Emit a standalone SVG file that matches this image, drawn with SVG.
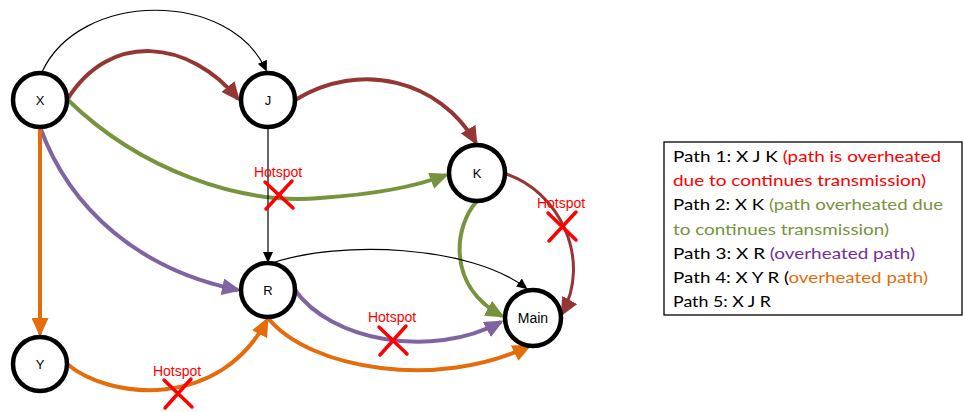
<svg xmlns="http://www.w3.org/2000/svg" width="964" height="412" viewBox="0 0 964 412">
<style>
.node circle{fill:#fff;stroke:#000;stroke-width:4.5}
.node text{font-family:"Liberation Sans",Arial,sans-serif;font-size:13px;fill:#000;text-anchor:middle}
.e{fill:none}
.thin{stroke:#000;stroke-width:1.2}
.br{stroke:#943634;stroke-width:4}
.gr{stroke:#77933C;stroke-width:4}
.pu{stroke:#8064A2;stroke-width:4}
.or{stroke:#E46C0A;stroke-width:4}
.hs text{font-family:"Liberation Sans",Arial,sans-serif;font-size:14px;fill:#FF0000;text-anchor:middle}
.hs path{stroke:#FF0000;stroke-width:3.5;fill:none;stroke-linecap:round}
.legend text{font-family:Lato,"Liberation Sans",sans-serif;font-size:16px;fill:#000}
.legend .red{fill:#FF0000}
.legend .grn{fill:#77933C}
.legend .pur{fill:#7030A0}
.legend .org{fill:#E46C0A}
</style>
<defs>
<marker id="mb" markerUnits="userSpaceOnUse" markerWidth="11" markerHeight="10" refX="9" refY="5" orient="auto"><path d="M0,0 L11,5 L0,10 z" fill="#000"/></marker>
<marker id="mbr" markerUnits="userSpaceOnUse" markerWidth="19" markerHeight="17" refX="16" refY="8.5" orient="auto"><path d="M0,0 L19,8.5 L0,17 z" fill="#943634"/></marker>
<marker id="mgr" markerUnits="userSpaceOnUse" markerWidth="19" markerHeight="17" refX="16" refY="8.5" orient="auto"><path d="M0,0 L19,8.5 L0,17 z" fill="#77933C"/></marker>
<marker id="mpu" markerUnits="userSpaceOnUse" markerWidth="19" markerHeight="17" refX="16" refY="8.5" orient="auto"><path d="M0,0 L19,8.5 L0,17 z" fill="#8064A2"/></marker>
<marker id="mor" markerUnits="userSpaceOnUse" markerWidth="19" markerHeight="17" refX="16" refY="8.5" orient="auto"><path d="M0,0 L19,8.5 L0,17 z" fill="#E46C0A"/></marker>
</defs>
<g id="connectors">
<path class="e thin" d="M42 72 C80 -10 230 -10 266 70" marker-end="url(#mb)"/>
<path class="e br" d="M67 100 C110 30 190 40 238 99" marker-end="url(#mbr)"/>
<path class="e br" d="M295 100 C360 60 440 80 476 143" marker-end="url(#mbr)"/>
<path class="e br" style="stroke-width:3" d="M503 173 C560 190 592 260 562 314" marker-end="url(#mbr)"/>
<path class="e gr" d="M68 100 C140 170 240 205 320 198 C380 194 420 185 446 175" marker-end="url(#mgr)"/>
<path class="e gr" d="M477 201 C455 225 445 285 502 316" marker-end="url(#mgr)"/>
<path class="e thin" d="M268 127 L268 261" marker-end="url(#mb)"/>
<path class="e thin" d="M272 263 C340 240 470 245 526 288" marker-end="url(#mb)"/>
<path class="e pu" d="M40 127 C70 210 140 270 238 290" marker-end="url(#mpu)"/>
<path class="e pu" d="M295 290 C330 340 430 360 501 322" marker-end="url(#mpu)"/>
<path class="e or" d="M40 127 L40 334" marker-end="url(#mor)"/>
<path class="e or" d="M67 364 C110 400 220 410 267 320" marker-end="url(#mor)"/>
<path class="e or" d="M268 318 C310 370 440 390 529 346" marker-end="url(#mor)"/>
</g>
<g id="node-X" class="node"><circle cx="40" cy="100" r="27"/><text x="40" y="105">X</text></g>
<g id="node-J" class="node"><circle cx="268" cy="100" r="27"/><text x="268" y="105">J</text></g>
<g id="node-K" class="node"><circle cx="477" cy="173" r="28"/><text x="477" y="178">K</text></g>
<g id="node-R" class="node"><circle cx="268" cy="290" r="27"/><text x="268" y="295">R</text></g>
<g id="node-Y" class="node"><circle cx="40" cy="364" r="27"/><text x="40" y="369">Y</text></g>
<g id="node-Main" class="node"><circle cx="533" cy="318" r="28"/><text x="533" y="323" style="font-size:14px">Main</text></g>
<g id="hotspot-1" class="hs"><text x="278" y="177">Hotspot</text><path d="M265 182 L293 208 M292 181 L266 209"/></g>
<g id="hotspot-2" class="hs"><text x="561" y="208">Hotspot</text><path d="M548 213 L576 240 M576 212 L549 241"/></g>
<g id="hotspot-3" class="hs"><text x="392" y="322">Hotspot</text><path d="M379 327 L407 354 M406 326 L380 355"/></g>
<g id="hotspot-4" class="hs"><text x="177" y="376">Hotspot</text><path d="M164 380 L192 407 M191 379 L165 408"/></g>
<g id="legend" class="legend">
<rect x="664" y="142" width="298" height="173" fill="#fff" stroke="#000" stroke-width="1.3"/>
<text x="673" y="162" textLength="268" lengthAdjust="spacingAndGlyphs">Path 1: X J K  <tspan class="red">(path is overheated</tspan></text>
<text x="673" y="186" textLength="253" lengthAdjust="spacingAndGlyphs" class="red">due to continues transmission)</text>
<text x="673" y="210" textLength="270" lengthAdjust="spacingAndGlyphs">Path 2: X K <tspan class="grn">(path overheated due</tspan></text>
<text x="673" y="235" textLength="216" lengthAdjust="spacingAndGlyphs" class="grn">to continues transmission)</text>
<text x="673" y="259" textLength="242" lengthAdjust="spacingAndGlyphs">Path 3: X R <tspan class="pur">(overheated path)</tspan></text>
<text x="673" y="283" textLength="255" lengthAdjust="spacingAndGlyphs">Path 4: X Y R (<tspan class="org">overheated path)</tspan></text>
<text x="673" y="307" textLength="98" lengthAdjust="spacingAndGlyphs">Path 5: X J R</text>
</g>
</svg>
